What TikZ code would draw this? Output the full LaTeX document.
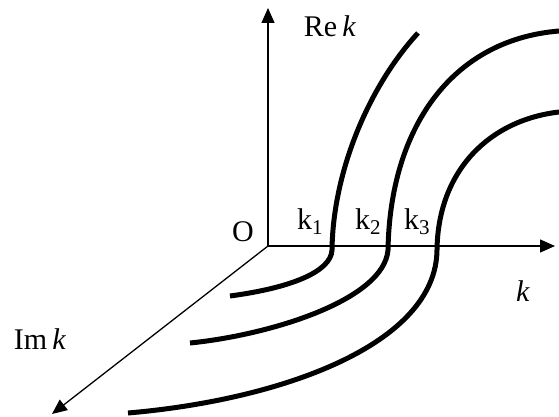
\documentclass[tikz,border=0pt]{standalone}
\usepackage{fontspec}
\setmainfont{Liberation Serif}
\usetikzlibrary{arrows.meta}
\begin{document}
\begin{tikzpicture}[x=1pt,y=-1pt,
  axis/.style={line width=1.3pt,-{Triangle[length=15pt,width=13pt]}},
  curve/.style={line width=5pt},
  lbl/.style={inner sep=0pt,anchor=base,font=\fontsize{30}{36}\selectfont}]
\useasboundingbox (0,0) rectangle (559,417);
\coordinate (O) at (268,246);
\coordinate (Ytip) at (268,8);
\coordinate (Xtip) at (555,246);
\coordinate (Ztip) at (52,414);
\draw[axis] (O) -- (Ytip);
\draw[axis] (O) -- (Xtip);
\draw[axis] (O) -- (Ztip);
% curves
\coordinate (a0) at (230,296); \coordinate (a1) at (332,250); \coordinate (a2) at (418,33);
\coordinate (b0) at (190,343); \coordinate (b1) at (388,250); \coordinate (b2) at (559,31);
\coordinate (c0) at (128,413); \coordinate (c1) at (437,250); \coordinate (c2) at (559,112);
\draw[curve] (a0) .. controls (290,288) and (331,272) .. (a1)
  .. controls (333,170) and (370,85) .. (a2);
\draw[curve] (b0) .. controls (270,335) and (384,300) .. (b1)
  .. controls (390,130) and (450,40) .. (b2);
\draw[curve] (c0) .. controls (280,400) and (436,345) .. (c1)
  .. controls (438,170) and (490,120) .. (c2);
% labels
\node[lbl] (lO) at (243,241) {O};
\node[lbl] (l1) at (310,229) {k\textsubscript{1}};
\node[lbl] (l2) at (368,229) {k\textsubscript{2}};
\node[lbl] (l3) at (417,229) {k\textsubscript{3}};
\node[lbl] (lre) at (330,37) {Re\,\textit{k}};
\node[lbl] (lim) at (40,349) {Im\,\textit{k}};
\node[lbl] (lk) at (523,301) {\textit{k}};
\end{tikzpicture}
\end{document}
